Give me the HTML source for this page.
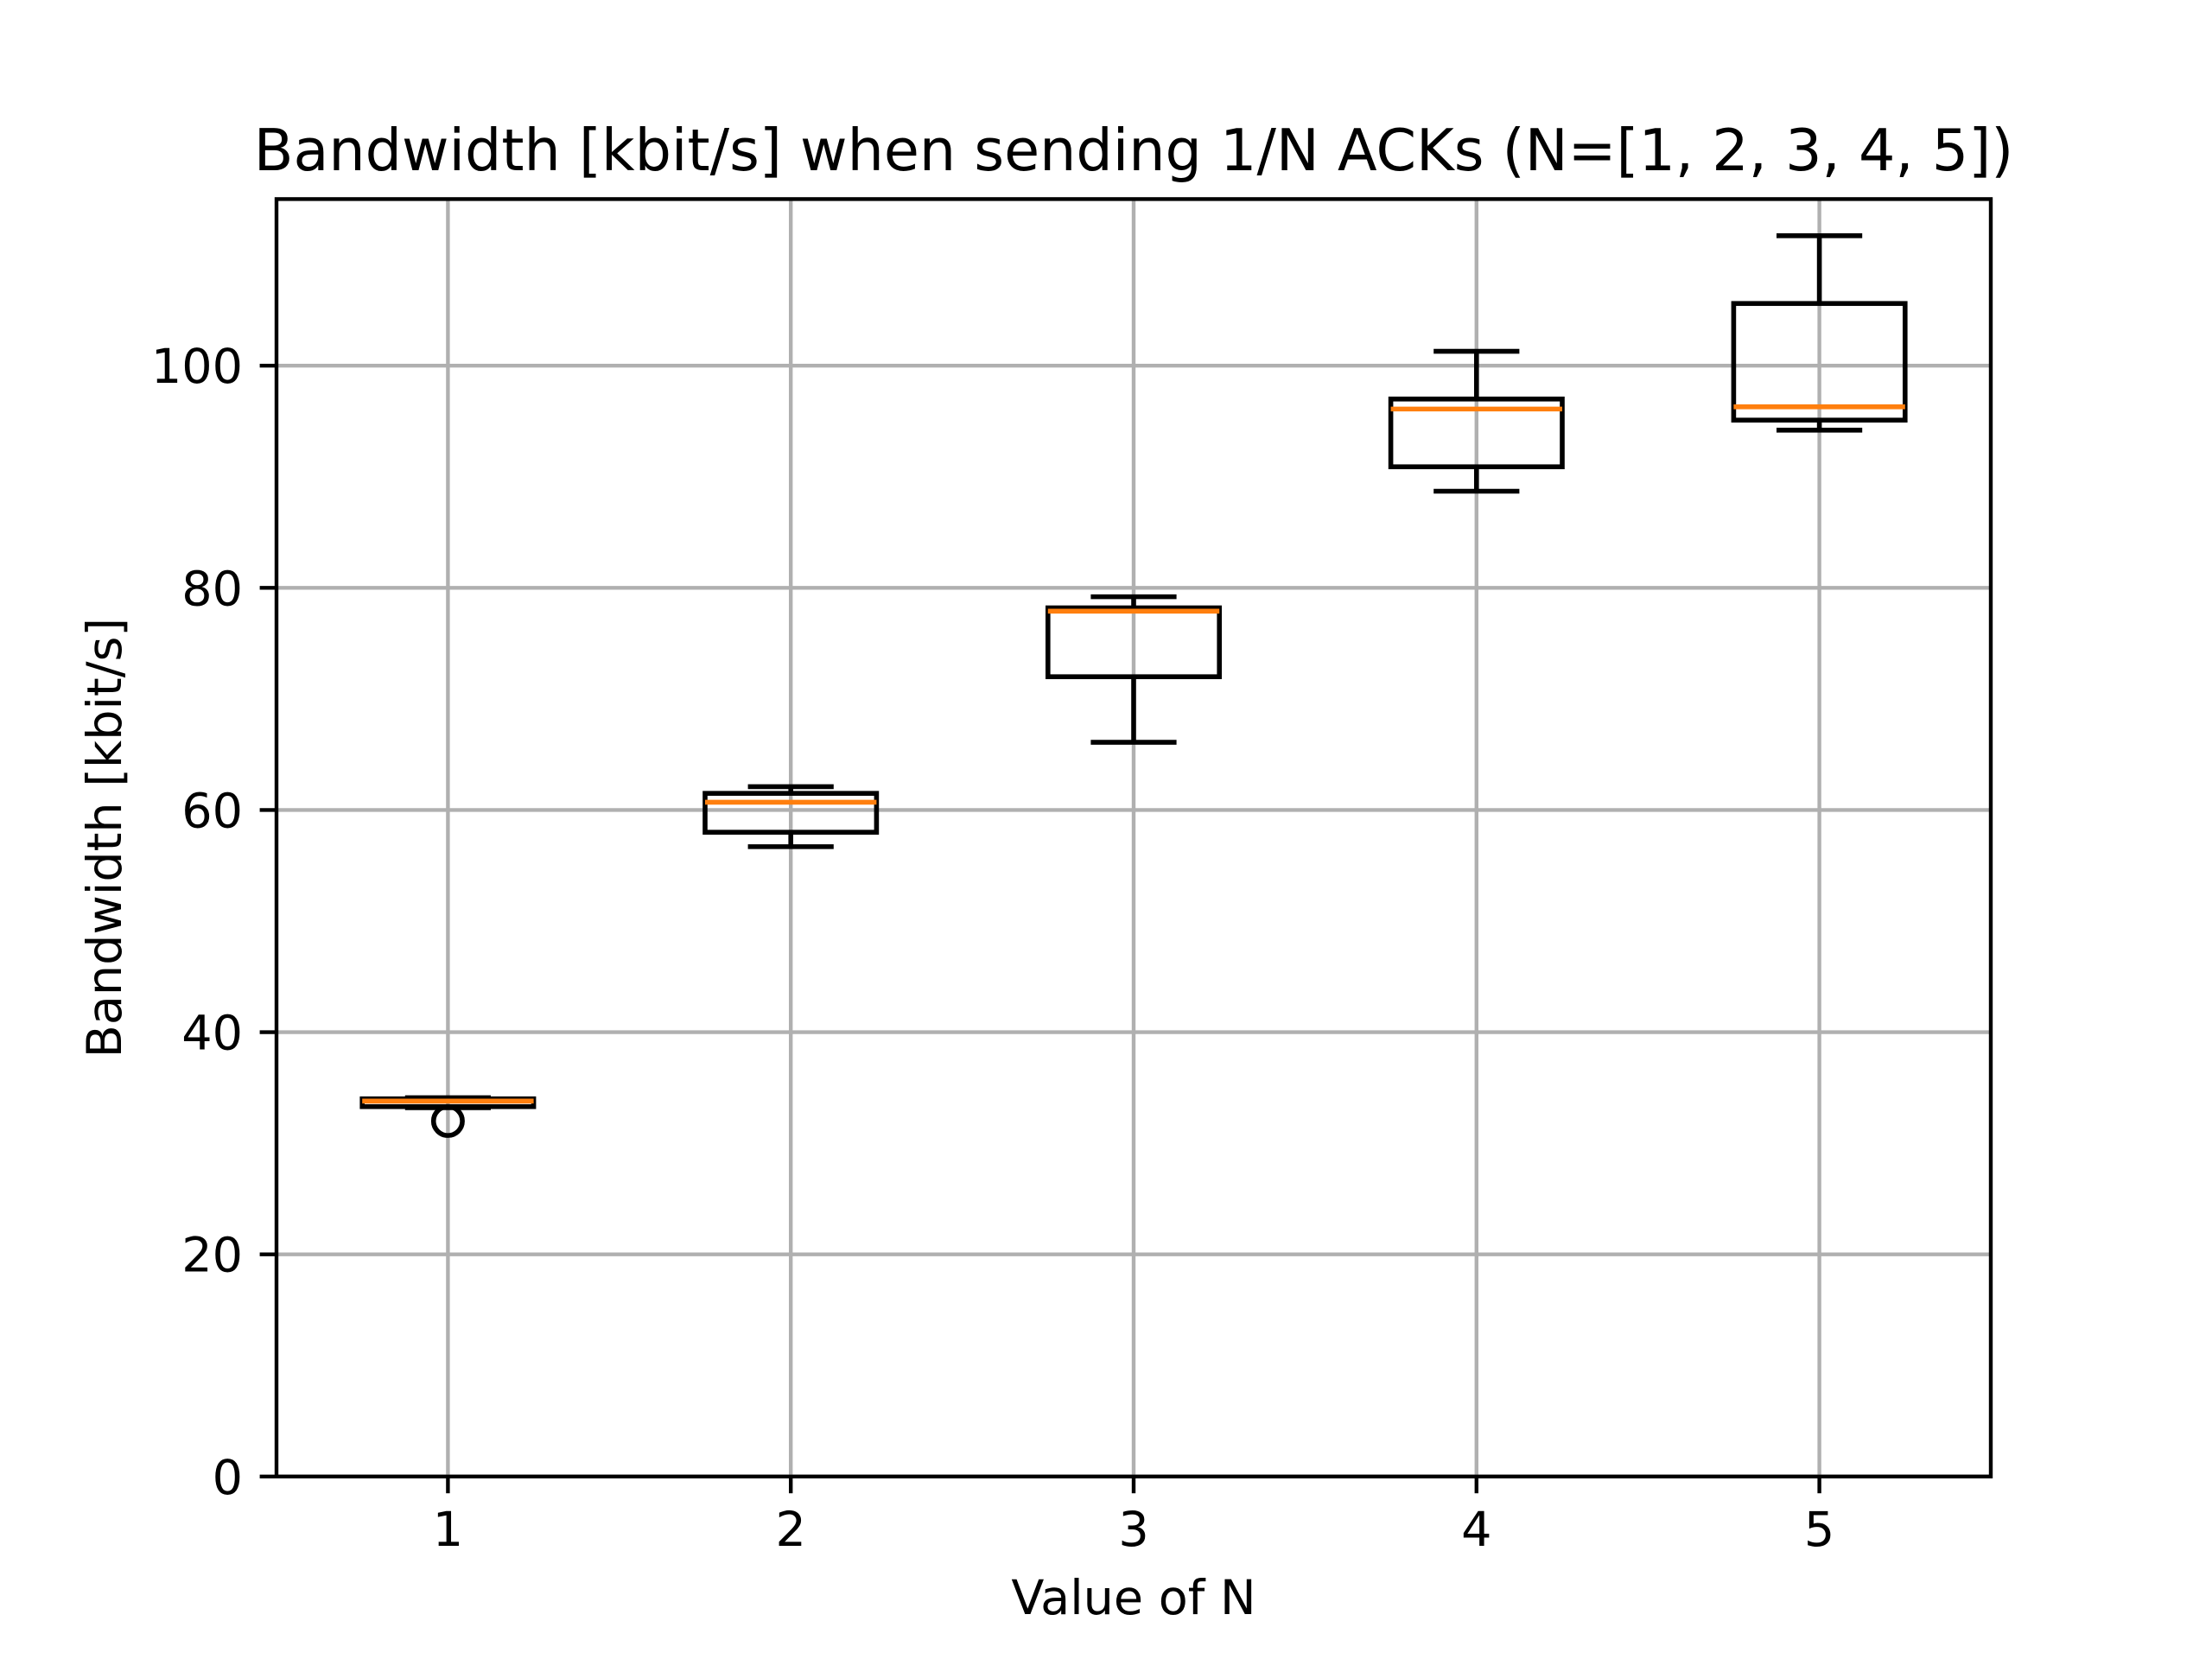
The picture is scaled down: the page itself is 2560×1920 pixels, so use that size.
<!DOCTYPE html>
<html><head><meta charset="utf-8"><style>body{margin:0;background:#fff}svg{display:block}text{font-family:"DejaVu Sans","Liberation Sans",sans-serif;fill:#000}</style></head>
<body>
<svg id="chart" width="2560" height="1920" viewBox="0 0 2560 1920" xmlns="http://www.w3.org/2000/svg"></svg>
<script>
const categories = [1, 2, 3, 4, 5];
const whiskerLow = [33.2, 56.7, 66.1, 88.7, 94.2];
const q1 = [33.3, 58.0, 72.0, 90.9, 95.1];
const medians = [33.8, 60.7, 77.9, 96.1, 96.3];
const q3 = [34.0, 61.5, 78.2, 97.0, 105.6];
const whiskerHigh = [34.1, 62.1, 79.2, 101.3, 111.7];
const outlierCat = [1];
const outlierVal = [32.0];
const yTicks = [0, 20, 40, 60, 80, 100];

const L = 320, R = 2304, T = 230.4, B = 1708.8;
const yMin = 0, yMax = 115, xMin = 0.5, xMax = 5.5;
const X = v => L + (v - xMin) / (xMax - xMin) * (R - L);
const Y = v => B - (v - yMin) / (yMax - yMin) * (B - T);
const svg = document.getElementById('chart');
const NS = 'http://www.w3.org/2000/svg';
function mk(tag, attrs, parent) {
  const e = document.createElementNS(NS, tag);
  for (const k in attrs) e.setAttribute(k, attrs[k]);
  (parent || svg).appendChild(e);
  return e;
}
yTicks.forEach(t => {
  const g = mk('line', {x1: L, x2: R, y1: Y(t), y2: Y(t), stroke: '#b0b0b0', 'stroke-width': 4.4});
  
  
});
categories.forEach(c => {
  const g = mk('line', {x1: X(c), x2: X(c), y1: T, y2: B, stroke: '#b0b0b0', 'stroke-width': 4.4});
  
  
});
const hw = 0.25, cw = 0.125;
categories.forEach((c, i) => {
  const g = mk('g', {});
  
  
  const s = {stroke: '#000', 'stroke-width': 5.6, fill: 'none'};
  mk('line', Object.assign({x1: X(c), x2: X(c), y1: Y(q1[i]), y2: Y(whiskerLow[i])}, s), g);
  mk('line', Object.assign({x1: X(c), x2: X(c), y1: Y(q3[i]), y2: Y(whiskerHigh[i])}, s), g);
  mk('line', Object.assign({x1: X(c - cw), x2: X(c + cw), y1: Y(whiskerLow[i]), y2: Y(whiskerLow[i])}, s), g);
  mk('line', Object.assign({x1: X(c - cw), x2: X(c + cw), y1: Y(whiskerHigh[i]), y2: Y(whiskerHigh[i])}, s), g);
  mk('rect', Object.assign({x: X(c - hw), y: Y(q3[i]), width: X(c + hw) - X(c - hw), height: Y(q1[i]) - Y(q3[i])}, s), g);
  mk('line', {x1: X(c - hw), x2: X(c + hw), y1: Y(medians[i]), y2: Y(medians[i]), stroke: '#ff7f0e', 'stroke-width': 5.6}, g);
});
outlierCat.forEach((c, i) => {
  const o = mk('circle', {cx: X(c), cy: Y(outlierVal[i]), r: 16.7, fill: 'none', stroke: '#000', 'stroke-width': 5.6});
  
  
});
const f = mk('rect', {x: L, y: T, width: R - L, height: B - T, fill: 'none', stroke: '#000', 'stroke-width': 4.4});


yTicks.forEach(t => {
  mk('line', {x1: L - 19.4, x2: L, y1: Y(t), y2: Y(t), stroke: '#000', 'stroke-width': 4.4});
  const tx = mk('text', {x: L - 39, y: Y(t) + 20, 'text-anchor': 'end', 'font-size': 55.6});
  tx.textContent = t;
  
  
});
categories.forEach(c => {
  mk('line', {x1: X(c), x2: X(c), y1: B, y2: B + 19.4, stroke: '#000', 'stroke-width': 4.4});
  const tx = mk('text', {x: X(c), y: B + 39 + 41, 'text-anchor': 'middle', 'font-size': 55.6});
  tx.textContent = c;
  
  
});
const xt = mk('text', {x: (L + R) / 2, y: 1868, 'text-anchor': 'middle', 'font-size': 55.6});
xt.textContent = 'Value of N';


const yt = mk('text', {x: 0, y: 0, 'text-anchor': 'middle', 'font-size': 55.6, transform: 'translate(140,' + (T + B) / 2 + ') rotate(-90)'});
yt.textContent = 'Bandwidth [kbit/s]';


const tt = mk('text', {x: (L + R) / 2, y: 197, 'text-anchor': 'middle', 'font-size': 66.7});
tt.textContent = 'Bandwidth [kbit/s] when sending 1/N ACKs (N=[1, 2, 3, 4, 5])';


</script>
</body></html>
